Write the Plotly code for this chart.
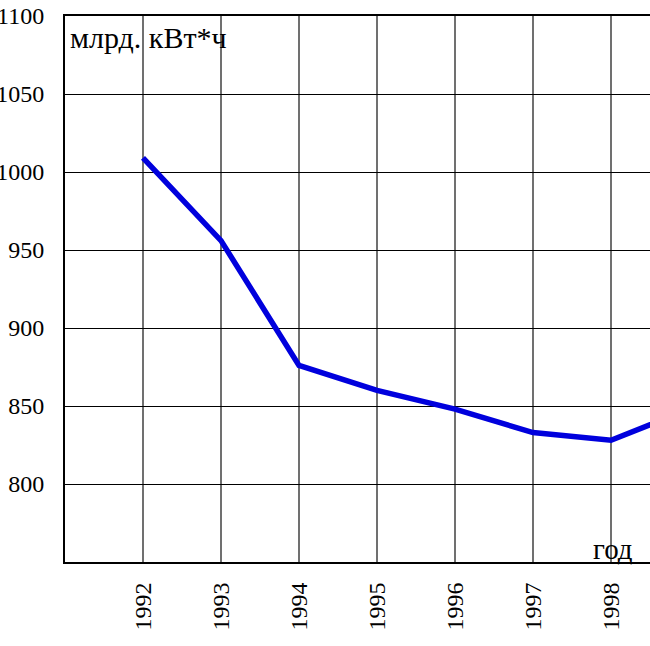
import plotly.graph_objects as go

years = [1992, 1993, 1994, 1995, 1996, 1997, 1998, 1999]
output = [1009, 956, 876, 860, 848, 833, 828, 848]

y_ticks = [800, 850, 900, 950, 1000, 1050, 1100]
x_ticks = [1992, 1993, 1994, 1995, 1996, 1997, 1998]

font = "Liberation Serif"
tick_font = dict(family=font, size=24, color="black")

fig = go.Figure()
fig.add_trace(go.Scatter(
    x=years, y=output, mode="lines",
    line=dict(color="#0000dd", width=5.5),
    showlegend=False, hoverinfo="skip",
))

fig.add_annotation(
    x=0.005, y=0.995, xref="paper", yref="paper",
    text="млрд. кВт*ч", showarrow=False,
    xanchor="left", yanchor="top",
    font=dict(family=font, size=30, color="black"),
)
fig.add_annotation(
    x=0.937, y=-0.01, xref="paper", yref="paper",
    text="год", showarrow=False,
    xanchor="center", yanchor="bottom",
    font=dict(family=font, size=29, color="black"),
)

fig.update_layout(
    width=650, height=646,
    margin=dict(l=65, r=0, t=16, b=84),
    plot_bgcolor="white", paper_bgcolor="white",
    font=dict(family=font, size=24, color="black"),
    xaxis=dict(
        range=[1991, 1998.5], tickvals=x_ticks, tickangle=-90,
        tickfont=tick_font, automargin=False, ticklabeloverflow="allow",
        showgrid=True, gridcolor="#707070", gridwidth=1.5,
        showline=True, linecolor="black", linewidth=2, mirror=True,
        ticks="", ticklabelstandoff=9, zeroline=False,
    ),
    yaxis=dict(
        range=[750, 1100], tickvals=y_ticks,
        tickfont=tick_font, automargin=False, ticklabeloverflow="allow",
        showgrid=True, gridcolor="black", gridwidth=1,
        showline=True, linecolor="black", linewidth=2, mirror=True,
        ticks="", ticklabelstandoff=14, zeroline=False,
    ),
)

# drop the default 8px body margin so the figure fills the window
fig.write_html(
    "out.html",
    config={"displayModeBar": False},
    post_script="document.body.style.margin='0';"
                "document.documentElement.style.overflow='hidden';",
)
